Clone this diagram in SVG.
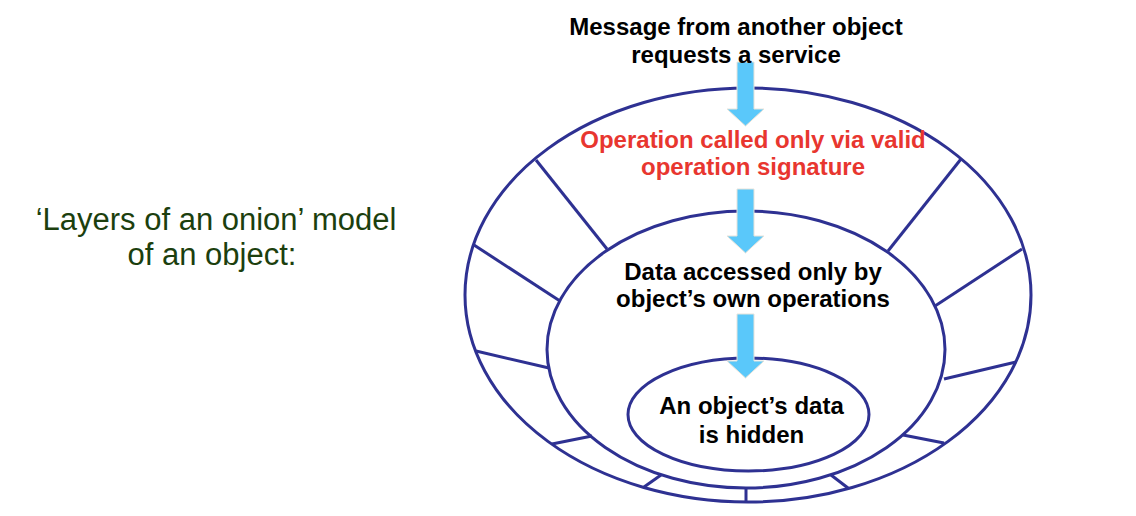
<svg xmlns="http://www.w3.org/2000/svg" width="1136" height="516" viewBox="0 0 1136 516">
<style>
.ring{fill:none;stroke:#2E3192;stroke-width:3}
.seg{stroke:#2E3192;stroke-width:3;fill:none}
.arrow{fill:#5AC8FA;stroke:#E6E3DA;stroke-width:1}
.b{font-family:"Liberation Sans",Arial,sans-serif;font-weight:bold;font-size:24px;text-anchor:middle;fill:#000}
.red{fill:#E8362F}
.green{font-family:"Liberation Sans",Arial,sans-serif;font-size:31px;text-anchor:middle;fill:#1C3F0E}
</style>
<defs>
<path id="arr" d="M-8.5,0 H8.5 V47 H18.5 L0,64 L-18.5,47 H-8.5 Z"/>
</defs>
<rect width="1136" height="516" fill="#fff"/>
<g id="title">
<text class="green" x="216" y="230">‘Layers of an onion’ model</text>
<text class="green" x="212" y="265">of an object:</text>
</g>
<g id="outer-layer">
<ellipse class="ring" cx="748" cy="295" rx="283" ry="207"/>
</g>
<g id="middle-layer">
<ellipse class="ring" cx="746" cy="349.5" rx="199" ry="138.5"/>
</g>
<g id="inner-layer">
<ellipse class="ring" cx="748.5" cy="414.5" rx="120.5" ry="56.5"/>
</g>
<g id="segments">
<line class="seg" x1="536" y1="160" x2="607" y2="249"/>
<line class="seg" x1="474" y1="245" x2="560" y2="301"/>
<line class="seg" x1="476" y1="351" x2="549" y2="368"/>
<line class="seg" x1="552" y1="444" x2="592" y2="436"/>
<line class="seg" x1="644" y1="487" x2="661" y2="475"/>
<line class="seg" x1="746" y1="488" x2="746" y2="502"/>
<line class="seg" x1="831" y1="475" x2="848" y2="488"/>
<line class="seg" x1="903" y1="435" x2="944" y2="443"/>
<line class="seg" x1="944" y1="379" x2="1016" y2="362"/>
<line class="seg" x1="935" y1="306" x2="1022" y2="249"/>
<line class="seg" x1="888" y1="251" x2="961" y2="159"/>
</g>
<g id="connectors">
<use href="#arr" class="arrow" x="745.5" y="62"/>
<use href="#arr" class="arrow" x="745.5" y="189"/>
<use href="#arr" class="arrow" x="745.5" y="314"/>
</g>
<g id="message">
<text class="b" x="736" y="35">Message from another object</text>
<text class="b" x="736" y="63">requests a service</text>
</g>
<g id="operation">
<text class="b red" x="753" y="148">Operation called only via valid</text>
<text class="b red" x="753" y="175">operation signature</text>
</g>
<g id="data-access">
<text class="b" x="753" y="280">Data accessed only by</text>
<text class="b" x="753" y="307">object’s own operations</text>
</g>
<g id="data-hidden">
<text class="b" x="751.5" y="414">An object’s data</text>
<text class="b" x="751.5" y="443">is hidden</text>
</g>
</svg>
